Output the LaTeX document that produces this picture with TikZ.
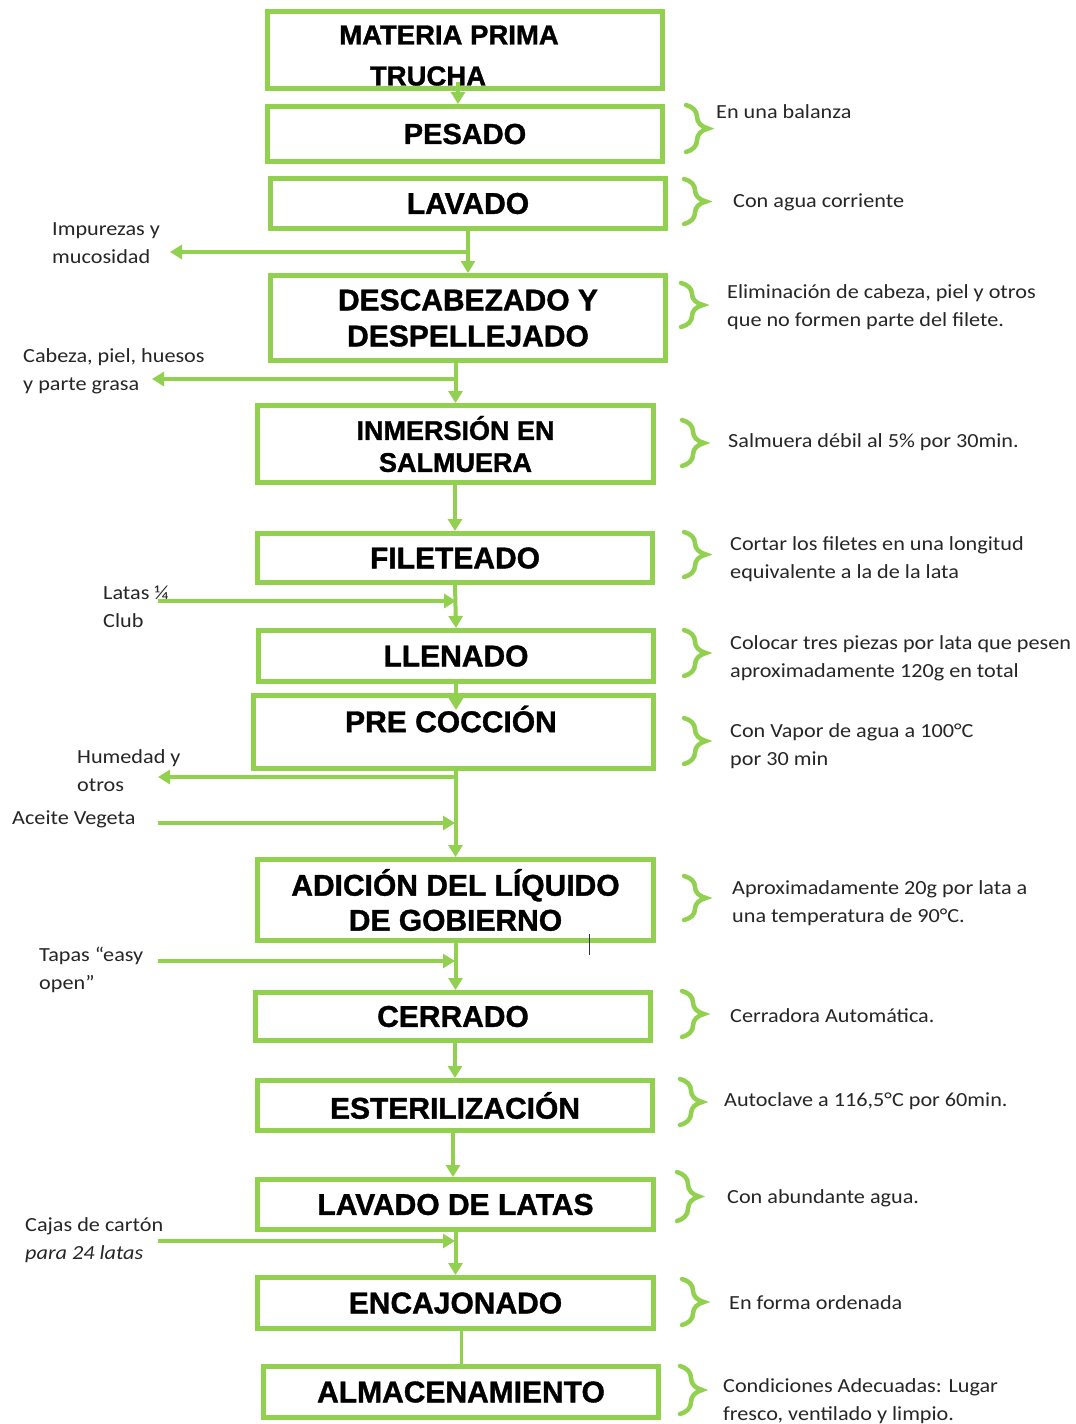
\documentclass[tikz,border=0pt]{standalone}
\usepackage{fontspec}
\setmainfont{Carlito}
\newfontfamily\boxfont[BoldFeatures={FakeBold=1.2}]{Liberation Sans}
\newfontfamily\notefont[FakeStretch=1.11]{Carlito}
\usetikzlibrary{arrows.meta,decorations.pathreplacing}
\definecolor{vg}{HTML}{92D050}
\tikzset{
  box/.style={draw=vg, line width=5pt, inner sep=0pt, align=center, text=black,
    font=\boxfont\bfseries\fontsize{30}{36}\selectfont},
  btxt/.style={inner sep=0pt, align=center, text=black,
    font=\boxfont\bfseries\fontsize{30}{36}\selectfont},
  note/.style={font=\notefont\fontsize{20}{28}\selectfont, anchor=west, align=left,
    inner sep=0pt, text=black!85},
  arr/.style={draw=vg, line width=4pt, -{Triangle[width=14pt,length=12pt]}},
  plain/.style={draw=vg, line width=3pt},
  brc/.style={draw=vg, line width=4.5pt, line cap=round, decorate,
    decoration={brace, amplitude=22pt}}
}
\begin{document}
\begin{tikzpicture}[x=1pt,y=-1pt]
\useasboundingbox (0,0) rectangle (1076,1424);
\fill[white] (0,0) rectangle (1076,1424);

% boxes
\node[box, minimum width=395pt, minimum height=77pt] (mp) at (465,50) {};
\node[btxt, font=\boxfont\bfseries\fontsize{27.5}{33}\selectfont] (mpt1) at (449,35) {MATERIA PRIMA};
\node[btxt, font=\boxfont\bfseries\fontsize{27.5}{33}\selectfont] (mpt2) at (428,76) {TRUCHA};
\node[box, minimum width=395pt, minimum height=55pt, font=\boxfont\bfseries\fontsize{29}{36}\selectfont] (pes) at (465,134) {PESADO};
\node[box, minimum width=395pt, minimum height=50pt] (lav) at (468,203.5) {LAVADO};
\node[box, minimum width=395pt, minimum height=85pt] (des) at (468,318) {DESCABEZADO Y\\DESPELLEJADO};
\node[box, minimum width=396pt, minimum height=77pt, font=\boxfont\bfseries\fontsize{27}{32}\selectfont] (inm) at (455.5,444) {INMERSIÓN EN\\SALMUERA};
\node[box, minimum width=395pt, minimum height=49pt] (fil) at (455,558) {FILETEADO};
\node[box, minimum width=395pt, minimum height=51pt] (lle) at (456,656) {LLENADO};
\node[box, minimum width=400pt, minimum height=73pt] (pre) at (453.5,732) {};
\node[btxt] (pret) at (451,719) {PRE COCCIÓN};
\node[box, minimum width=396pt, minimum height=81pt, font=\boxfont\bfseries\fontsize{30}{35}\selectfont] (adi) at (455.5,900) {ADICIÓN DEL LÍQUIDO\\DE GOBIERNO};
\node[box, minimum width=395pt, minimum height=48pt] (cer) at (453,1016.5) {CERRADO};
\node[box, minimum width=395pt, minimum height=50pt] (est) at (455,1105.5) {ESTERILIZACIÓN};
\node[box, minimum width=396pt, minimum height=50pt] (lat) at (455.5,1204.5) {LAVADO DE LATAS};
\node[box, minimum width=396pt, minimum height=51pt] (enc) at (455.5,1303) {ENCAJONADO};
\node[box, minimum width=395pt, minimum height=51pt] (alm) at (461,1392) {ALMACENAMIENTO};

% main flow
\draw[arr] ([xshift=-7pt,yshift=9pt]mp.south) -- ([xshift=-7pt]pes.north);
\draw[arr] (lav.south) -- (des.north);
\draw[arr] (inm.north |- des.south) -- (inm.north);
\draw[arr] (inm.south -| fil.north) -- (fil.north);
\draw[arr] (fil.south) -- (lle.north);
\draw[arr] (lle.south) -- ([yshift=-17pt]lle.south |- pre.north);
\draw[arr] (pre.south -| adi.north) -- (adi.north);
\draw[arr] (adi.south) -- (adi.south |- cer.north);
\draw[arr] (cer.south -| est.north) -- (est.north);
\draw[arr] (est.south -| cer.north) -- (cer.north |- lat.north);
\draw[arr] (lat.south) -- (enc.north);
\draw[plain] (enc.south -| alm.north) -- (alm.north);

% side outputs
\coordinate (j1) at (469,252);  \coordinate (o1) at (170,252);
\coordinate (j2) at (454,379);  \coordinate (o2) at (152,379);
\coordinate (j3) at (455,777);  \coordinate (o3) at (158,777);
\draw[arr] (j1) -- (o1);
\draw[arr] (j2) -- (o2);
\draw[arr] (j3) -- (o3);

% side inputs
\coordinate (i1) at (158,601);  \coordinate (k1) at (456,601);
\coordinate (i2) at (158,823);  \coordinate (k2) at (455,823);
\coordinate (i3) at (158,961);  \coordinate (k3) at (455,961);
\coordinate (i4) at (158,1241); \coordinate (k4) at (455,1241);
\draw[arr] (i1) -- (k1);
\draw[arr] (i2) -- (k2);
\draw[arr] (i3) -- (k3);
\draw[arr] (i4) -- (k4);

% left labels
\node[note] (l1) at (52,243) {Impurezas y\\mucosidad};
\node[note] (l2) at (23,371.5) {Cabeza, piel, huesos\\y parte grasa};
\node[note] (l3) at (103,606.5) {Latas ¼\\Club};
\node[note] (l4) at (77,771) {Humedad y\\otros};
\node[note] (l5) at (12,819) {Aceite Vegeta};
\node[note] (l6) at (39,970) {Tapas “easy\\open”};
\node[note] (l7) at (25,1240) {Cajas de cartón\\\textit{para 24 latas}};

% braces
\draw[brc] (686,105) -- (686,152);
\draw[brc] (684,179) -- (684,224);
\draw[brc] (681,283) -- (681,327);
\draw[brc] (682,420) -- (682,466);
\draw[brc] (684,532) -- (684,577);
\draw[brc] (684,630) -- (684,676);
\draw[brc] (684,718) -- (684,764);
\draw[brc] (684,876) -- (684,920);
\draw[brc] (682,991) -- (682,1037);
\draw[brc] (680,1079) -- (680,1125);
\draw[brc] (677,1172) -- (677,1221);
\draw[brc] (682,1279) -- (682,1325);
\draw[brc] (680,1366) -- (680,1414);

% annotations
\node[note] (n1) at (716,112) {En una balanza};
\node[note] (n2) at (733,202) {Con agua corriente};
\node[note] (n3) at (727,307.5) {Eliminación de cabeza, piel y otros\\que no formen parte del filete.};
\node[note] (n4) at (728,442) {Salmuera débil al 5\% por 30min.};
\node[note] (n5) at (730,559) {Cortar los filetes en una longitud\\equivalente a la de la lata};
\node[note] (n6) at (730,658.5) {Colocar tres piezas por lata que pesen\\aproximadamente 120g en total};
\node[note] (n7) at (730,746) {Con Vapor de agua a 100°C\\por 30 min};
\node[note] (n8) at (732,903) {Aproximadamente 20g por lata a\\una temperatura de 90°C.};
\node[note] (n9) at (730,1016) {Cerradora Automática.};
\node[note] (n10) at (724,1101) {Autoclave a 116,5°C por 60min.};
\node[note] (n11) at (727,1198) {Con abundante agua.};
\node[note] (n12) at (729,1303) {En forma ordenada};
\node[note] (n13) at (723,1401.5) {Condiciones Adecuadas: Lugar\\fresco, ventilado y limpio.};

% text cursor mark
\draw[black!80, line width=1pt] (589,934) -- (589,955);
\end{tikzpicture}
\end{document}
